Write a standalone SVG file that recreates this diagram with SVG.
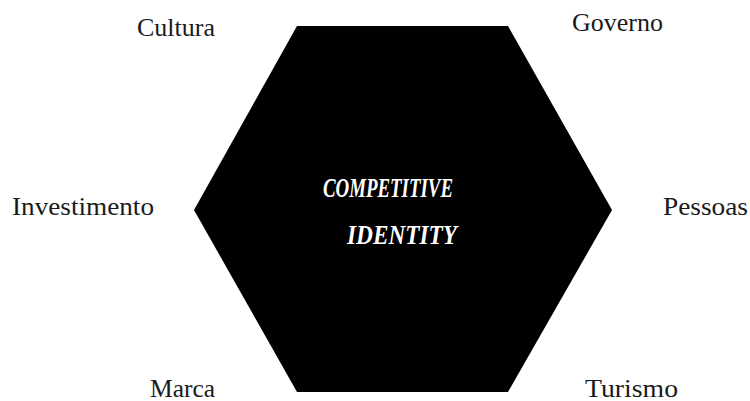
<svg xmlns="http://www.w3.org/2000/svg" width="750" height="401" viewBox="0 0 750 401">
<style>
.lbl{font-family:"Liberation Serif","DejaVu Serif",serif;font-size:25px;fill:#1a1a1a}
.ctr{font-family:"Liberation Serif","DejaVu Serif",serif;font-size:27px;font-weight:bold;font-style:italic;fill:#ffffff;text-anchor:middle}
</style>
<rect width="750" height="401" fill="#ffffff"/>
<g id="hexagon">
<polygon points="297,26 508,26 612,210 508,392 297,392 194,210" fill="#000000"/>
<text class="ctr" x="388" y="197" textLength="130" lengthAdjust="spacingAndGlyphs">COMPETITIVE</text>
<text class="ctr" x="402" y="244" textLength="110" lengthAdjust="spacingAndGlyphs">IDENTITY</text>
</g>
<g id="cultura"><text class="lbl" x="137" y="36" textLength="78" lengthAdjust="spacingAndGlyphs">Cultura</text></g>
<g id="governo"><text class="lbl" x="572" y="31" textLength="91" lengthAdjust="spacingAndGlyphs">Governo</text></g>
<g id="investimento"><text class="lbl" x="12" y="215" textLength="142" lengthAdjust="spacingAndGlyphs">Investimento</text></g>
<g id="pessoas"><text class="lbl" x="663" y="215" textLength="85" lengthAdjust="spacingAndGlyphs">Pessoas</text></g>
<g id="marca"><text class="lbl" x="150" y="397" textLength="65" lengthAdjust="spacingAndGlyphs">Marca</text></g>
<g id="turismo"><text class="lbl" x="585" y="397" textLength="93" lengthAdjust="spacingAndGlyphs">Turismo</text></g>
<g id="connectors"></g>
</svg>
